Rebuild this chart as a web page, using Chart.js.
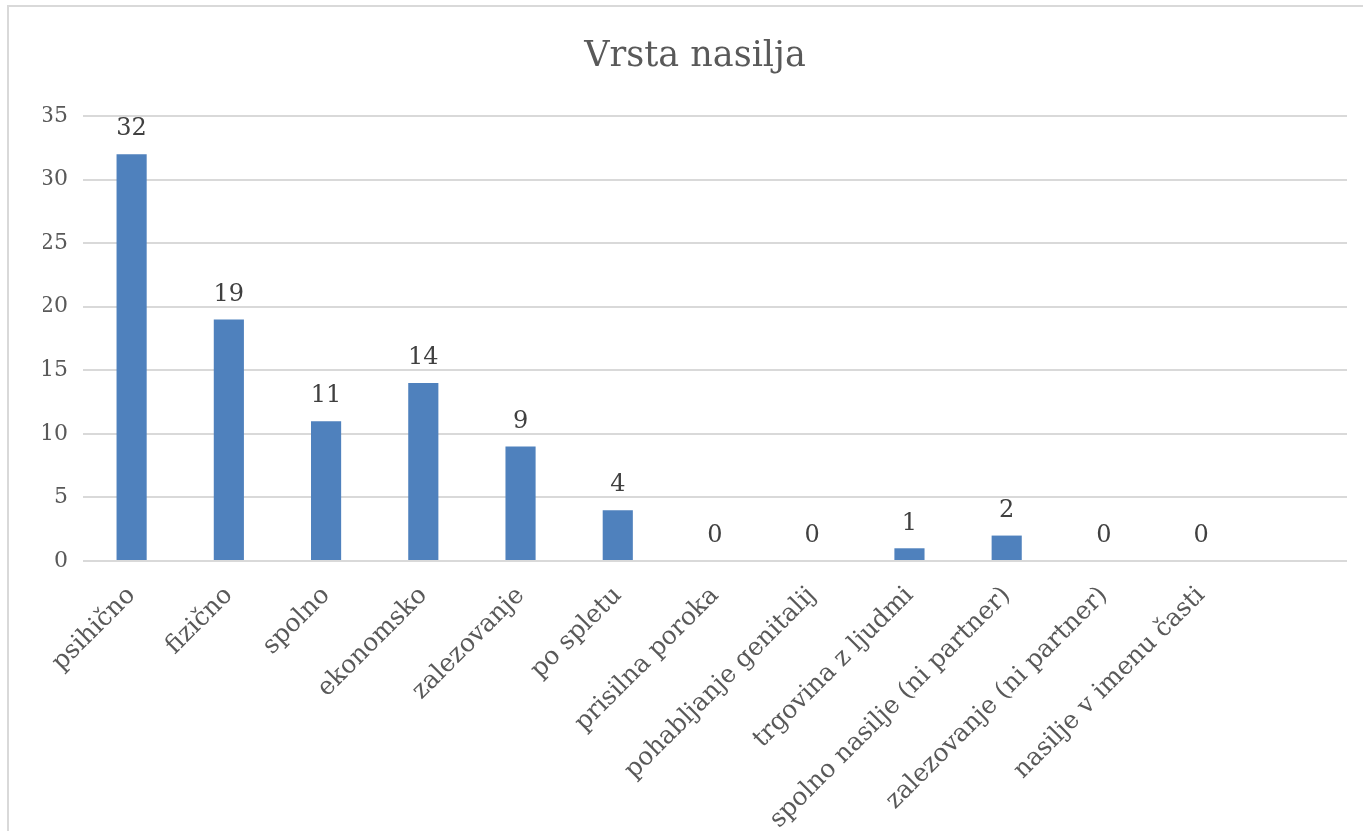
<!DOCTYPE html>
<html>
<head>
<meta charset="utf-8">
<script src="https://cdn.jsdelivr.net/npm/chart.js@4/dist/chart.umd.min.js"></script>
<style>
  html, body { margin: 0; padding: 0; background: #fff; overflow: hidden; }
  #wrap { position: absolute; left: 0; top: 0; width: 1363px; height: 831px; }
  #frame { position: absolute; left: 7px; top: 5px; width: 1400px; height: 900px;
           border-left: 2px solid #d9d9d9; border-top: 2px solid #d9d9d9; }
</style>
</head>
<body>
<div id="wrap">
  <div id="frame"></div>
  <canvas id="nasiljeChart" width="1363" height="831"></canvas>
</div>
<script>
// --- data ---
const categories = [
  'psihično', 'fizično', 'spolno', 'ekonomsko', 'zalezovanje', 'po spletu',
  'prisilna poroka', 'pohabljanje genitalij', 'trgovina z ljudmi',
  'spolno nasilje (ni partner)', 'zalezovanje (ni partner)', 'nasilje v imenu časti',
  ''   // empty slot at the end, as in the original
];
const counts = [32, 19, 11, 14, 9, 4, 0, 0, 1, 2, 0, 0, null];
const yTicks = [0, 5, 10, 15, 20, 25, 30, 35];

const FONT = "'DejaVu Serif', serif";

// value labels above the bars (no datalabels plugin available offline)
const valueLabels = {
  id: 'valueLabels',
  afterDatasetsDraw(chart) {
    const c = chart.ctx;
    const meta = chart.getDatasetMeta(0);
    c.save();
    c.font = '24px ' + FONT;
    c.fillStyle = '#404040';
    c.textAlign = 'center';
    c.textBaseline = 'middle';
    meta.data.forEach((bar, i) => {
      const v = counts[i];
      if (v === null || v === undefined) return;
      c.fillText(String(v), bar.x, bar.y - 25);
    });
    c.restore();
  }
};

const ctx = document.getElementById('nasiljeChart').getContext('2d');

const chart = new Chart(ctx, {
  type: 'bar',
  data: {
    labels: categories,
    datasets: [{
      label: 'Vrsta nasilja',
      data: counts,
      backgroundColor: '#4f81bd',
      categoryPercentage: 1,
      barPercentage: 0.31
    }]
  },
  options: {
    responsive: false,
    animation: false,
    layout: { padding: { left: 43, right: 16, top: 0, bottom: 0 } },
    plugins: {
      legend: { display: false },
      tooltip: { enabled: false },
      title: {
        display: true,
        text: 'Vrsta nasilja',
        color: '#595959',
        font: { family: FONT, size: 35, weight: 'normal' },
        padding: { top: 36, bottom: 38 }
      }
    },
    scales: {
      x: {
        grid: { display: false },
        border: { display: false },
        ticks: {
          color: '#595959',
          font: { family: FONT, size: 25 },
          minRotation: 45,
          maxRotation: 45,
          autoSkip: false,
          padding: 12
        },
        afterFit(scale) { scale.height = 270; }
      },
      y: {
        min: 0,
        max: 35,
        afterBuildTicks(scale) { scale.ticks = yTicks.map(v => ({ value: v })); },
        grid: { color: '#d9d9d9', lineWidth: 2, drawTicks: false },
        border: { display: false },
        ticks: {
          color: '#595959',
          font: { family: FONT, size: 22 },
          padding: 15
        },
        afterFit(scale) { scale.width = 40; }
      }
    }
  },
  plugins: [valueLabels]
});
</script>
</body>
</html>
